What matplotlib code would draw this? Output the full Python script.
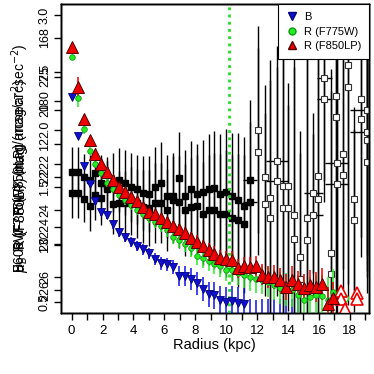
import numpy as np
import matplotlib as mpl
mpl.use("Agg")
import matplotlib.pyplot as plt
from matplotlib.lines import Line2D

plt.rcParams.update({
    "font.family": ["Liberation Sans", "DejaVu Sans"],
    "font.size": 9,
    "axes.linewidth": 1.0,
    "xtick.major.size": 5,
    "ytick.major.size": 5,
    "xtick.major.width": 1.0,
    "ytick.major.width": 1.0,
})

# radius grid (kpc)
radius = [0.00, 0.39, 0.77, 1.16, 1.54, 1.93, 2.31, 2.70, 3.08, 3.47,
          3.85, 4.24, 4.62, 5.01, 5.39, 5.78, 6.16, 6.55, 6.93, 7.32,
          7.70, 8.09, 8.47, 8.86, 9.24, 9.63, 10.01, 10.40, 10.78, 11.17,
          11.55, 11.94, 12.32, 12.71, 13.09, 13.48, 13.86, 14.25, 14.63, 15.02,
          15.40, 15.79, 16.17, 16.56, 16.94, 17.33, 17.71, 18.10, 18.48, 18.87]

# surface brightness profiles (mag/arcsec^2)
mu_B = [20.60, 21.77, 22.67, 23.21, 23.72, 24.05, 24.14, 24.42, 24.66, 24.81,
        24.95, 25.07, 25.17, 25.29, 25.47, 25.59, 25.62, 25.70, 25.98, 25.97,
        26.06, 26.19, 26.37, 26.52, 26.55, 26.70, 26.75, 26.72, 26.79, 26.82,
        27.30, 27.40, 27.50, 27.35, 27.60, 27.40, 27.70, 27.35, 27.30]
err_B = [0.05, 0.08, 0.10, 0.10, 0.12, 0.12, 0.12, 0.13, 0.14, 0.14,
         0.15, 0.15, 0.16, 0.17, 0.18, 0.20, 0.20, 0.22, 0.30, 0.30,
         0.32, 0.34, 0.36, 0.38, 0.40, 0.42, 0.45, 0.45, 0.50, 0.50,
         0.65, 0.70, 0.85, 0.70, 0.95, 0.75, 1.00, 0.70, 0.80]

mu_775 = [19.39, 20.64, 21.57, 22.21, 22.62, 22.88, 23.17, 23.36, 23.54, 23.69,
          23.84, 23.99, 24.11, 24.23, 24.35, 24.47, 24.59, 24.80, 24.90, 25.02,
          25.14, 25.37, 25.44, 25.53, 25.60, 25.68, 25.78, 25.80, 25.89, 25.95,
          26.01, 26.07, 26.10, 26.15, 26.25, 26.34, 26.37, 26.40, 26.55, 26.68,
          26.61, 26.55, 26.58, 26.70, 26.45]
err_775 = [0.03, 0.25, 0.15, 0.10, 0.10, 0.10, 0.12, 0.12, 0.12, 0.14,
           0.14, 0.15, 0.15, 0.16, 0.18, 0.18, 0.20, 0.20, 0.22, 0.24,
           0.25, 0.26, 0.28, 0.30, 0.30, 0.32, 0.34, 0.35, 0.36, 0.38,
           0.40, 0.40, 0.42, 0.44, 0.45, 0.48, 0.50, 0.50, 0.55, 0.60,
           0.60, 0.62, 0.65, 0.70, 0.70]

mu_850 = [19.09, 20.31, 21.26, 21.89, 22.31, 22.62, 22.86, 23.09, 23.30, 23.45,
          23.60, 23.72, 23.90, 24.05, 24.12, 24.24, 24.35, 24.47, 24.57, 24.69,
          24.84, 24.95, 25.08, 25.20, 25.30, 25.44, 25.46, 25.49, 25.74, 25.68,
          25.70, 25.68, 25.93, 26.00, 26.00, 26.10, 26.30, 26.08, 26.22, 26.32,
          26.25, 26.30, 26.20, 26.80, 26.64]
err_850 = [0.03, 0.30, 0.12, 0.08, 0.08, 0.08, 0.08, 0.10, 0.10, 0.10,
           0.10, 0.12, 0.12, 0.12, 0.14, 0.14, 0.15, 0.15, 0.16, 0.18,
           0.18, 0.20, 0.20, 0.22, 0.22, 0.24, 0.25, 0.26, 0.28, 0.28,
           0.30, 0.30, 0.32, 0.34, 0.35, 0.36, 0.38, 0.40, 0.40, 0.42,
           0.45, 0.45, 0.48, 0.50, 0.50]

# outer points with negative / uncertain flux (open symbols)
r_open_850 = [17.40, 17.40, 17.71, 18.48, 18.48]
mu_open_850 = [26.42, 26.65, 26.95, 26.48, 26.65]
r_open_775 = [17.71, 18.48]
mu_open_775 = [26.64, 26.55]

# colour profiles, inner region (filled squares)
col_hi = [1.63, 1.63, 1.59, 1.56, 1.62, 1.54, 1.51, 1.54, 1.56, 1.54,
          1.50, 1.48, 1.45, 1.44, 1.50, 1.54, 1.42, 1.42, 1.58, 1.42,
          1.48, 1.44, 1.46, 1.48, 1.49, 1.44, 1.46, 1.42, 1.39, 1.34, 1.56]
col_lo = [1.45, 1.45, 1.40, 1.34, 1.43, 1.41, 1.48, 1.35, 1.36, 1.36,
          1.38, 1.36, 1.33, 1.32, 1.36, 1.36, 1.30, 1.39, 1.37, 1.30,
          1.33, 1.34, 1.27, 1.30, 1.30, 1.27, 1.27, 1.23, 1.21, 1.18, 1.37]
col_err = [0.22, 0.22, 0.20, 0.22, 0.22, 0.24, 0.25, 0.26, 0.28, 0.28,
           0.30, 0.30, 0.32, 0.33, 0.35, 0.35, 0.36, 0.38, 0.40, 0.40,
           0.42, 0.44, 0.45, 0.48, 0.50, 0.52, 0.55, 0.55, 0.58, 0.60, 0.70]
col_rerr = [0.0] * 30 + [0.45]

# colour profiles, outer region (open squares)
r_out = [12.08, 12.51, 12.83, 13.27, 13.66, 14.02, 14.41, 14.78, 15.21, 15.64,
         15.96, 16.35, 16.76, 17.11, 17.15, 17.54, 17.90, 18.29, 18.71, 19.09, 19.09]
r_out_err = [0.00, 0.00, 0.00, 0.70, 0.00, 0.00, 0.00, 0.00, 0.00, 0.60,
             0.00, 0.50, 0.00, 0.00, 0.75, 0.00, 0.00, 0.00, 0.00, 1.10, 0.00]
col_out_hi = [2.00, 1.59, 1.41, 1.73, 1.51, 1.51, 1.26, 0.89, 1.23, 1.45,
              1.60, 2.45, 0.93, 2.29, 1.71, 1.79, 2.56, 1.40, 2.27, 2.17, 1.91]
col_out_lo = [1.81, 1.35, 1.23, 1.55, 1.32, 1.32, 1.05, 0.70, 1.04, 1.26,
              1.40, 2.27, 0.74, 2.11, 1.53, 1.61, 2.37, 1.21, 2.09, 1.98, 1.72]
col_out_err = [0.90, 0.80, 1.20, 1.00, 1.30, 0.90, 1.50, 1.10, 1.60, 0.70,
               1.70, 0.90, 1.60, 1.80, 1.20, 1.00, 1.90, 0.80, 1.20, 1.40, 1.00]

r_limit = 10.2

x_ticks = list(range(0, 20))
x_ticklabels = [str(v) if v % 2 == 0 else "" for v in x_ticks]
col_ticks = [0.5, 1.0, 1.5, 2.0, 2.5, 3.0]
col_ticklabels = ["0.5", "1.0", "1.5", "2.0", "2.5", "3.0"]
muB_ticks = [16, 18, 20, 22, 24]
muB_ticklabels = ["168", "180", "222", "224", "226"]
mu_ticks = [20, 21, 22, 23, 24, 25, 26]
mu_ticklabels = ["275", "20", "12", "22", "24", "23", "26"]

fig = plt.figure(figsize=(3.74, 3.74), dpi=100)
ax = fig.add_axes([0.1623, 0.1631, 0.8243, 0.8254])
ax.set_xlim(-0.71, 19.24)
ax.set_ylim(0.404, 3.093)

r_in = radius[:len(col_hi)]
ax.errorbar(r_in, col_hi, yerr=col_err, xerr=col_rerr, fmt="s", color="black", ms=4.0,
            ecolor="black", elinewidth=1.0, capsize=0)
ax.errorbar(r_in, col_lo, yerr=col_err, xerr=col_rerr, fmt="s", color="black", ms=4.0,
            ecolor="black", elinewidth=1.0, capsize=0)
ax.errorbar(r_out, col_out_hi, yerr=col_out_err, xerr=r_out_err, fmt="s",
            mfc="white", mec="#333333", ms=4.2, mew=0.8,
            ecolor="black", elinewidth=1.0, capsize=0)
ax.errorbar(r_out, col_out_lo, yerr=col_out_err, xerr=r_out_err, fmt="s",
            mfc="white", mec="#333333", ms=4.2, mew=0.8,
            ecolor="black", elinewidth=1.0, capsize=0)

# magnitude axes (drawn on the left, overlapping)
axb = ax.twinx()
axb.set_ylim(24.73, 14.93)
axm = ax.twinx()
axm.set_ylim(27.08, 17.82)

axm.axvline(r_limit, color="#22DD22", ls=(0, (1, 1.6)), lw=2.0, zorder=1)
axm.errorbar(radius[:len(mu_B)], mu_B, yerr=err_B, fmt="v", mfc="#1010CC",
             mec="#000080", ms=5.5, mew=0.6, ecolor="#1010EE", elinewidth=1.1, capsize=0)
axm.errorbar(radius[:len(mu_775)], mu_775, yerr=err_775, fmt="o", mfc="#22EE22",
             mec="#119911", ms=4.0, mew=0.6, ecolor="#22EE22", elinewidth=1.1, capsize=0)
axm.errorbar(radius[:len(mu_850)], mu_850, yerr=err_850, fmt="^", mfc="#EE0000",
             mec="#550000", ms=8.0, mew=0.7, ecolor="#EE0000", elinewidth=1.1, capsize=0)
axm.plot(r_open_775, mu_open_775, "o", mfc="none", mec="#22DD22", ms=4.5, mew=1.0)
axm.plot(r_open_850, mu_open_850, "^", mfc="white", mec="#EE0000", ms=8.0, mew=1.2)

for a in (ax, axb, axm):
    a.yaxis.tick_left()
    a.tick_params(axis="y", labelrotation=90, pad=2)
    a.tick_params(axis="x", bottom=True, top=False)

ax.set_yticks(col_ticks)
ax.set_yticklabels(col_ticklabels)
axb.set_yticks(muB_ticks)
axb.set_yticklabels(muB_ticklabels)
axm.set_yticks(mu_ticks)
axm.set_yticklabels(mu_ticklabels)
for a in (ax, axb, axm):
    for t in a.get_yticklabels():
        t.set_va("center")

ax.set_xticks(x_ticks)
ax.set_xticklabels(x_ticklabels, fontsize=9.5)
ax.set_xlabel("Radius (kpc)", fontsize=10.5, labelpad=1)

ylabels = ["F606W - R (F850LP) (mag/arcsec$^{-2}$)",
           "B - R (F775W)  (mag/arcsec$^{-2}$)",
           "$\\mu_B$  R (F850LP) mag"]
for lab in ylabels:
    fig.text(0.055, 0.27, lab, rotation=90, ha="center", va="bottom", fontsize=10)

handles = [
    Line2D([], [], ls="none", marker="v", mfc="#1010CC", mec="#000080", ms=6),
    Line2D([], [], ls="none", marker="o", mfc="#22EE22", mec="#119911", ms=5),
    Line2D([], [], ls="none", marker="^", mfc="#EE0000", mec="#550000", ms=6),
]
leg = axm.legend(handles, ["B", "R (F775W)", "R (F850LP)"], loc="upper right",
                 borderaxespad=0, fancybox=False, edgecolor="black", framealpha=1,
                 fontsize=8.0, handlelength=1.0, handletextpad=0.6, borderpad=0.7,
                 labelspacing=0.4)
leg.get_frame().set_linewidth(0.8)

fig.savefig("out.png", dpi=100)
